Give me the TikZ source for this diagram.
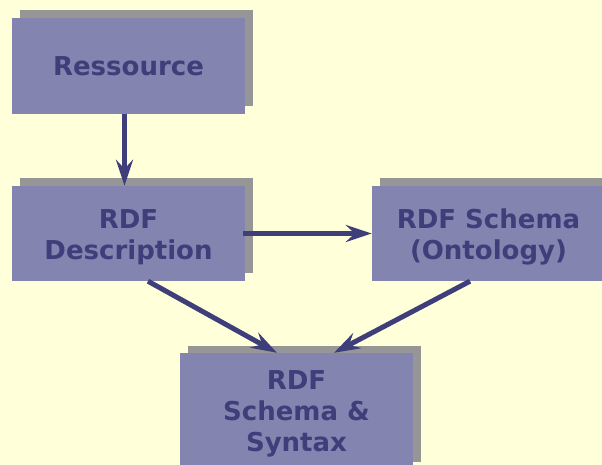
\documentclass[tikz,border=0pt]{standalone}
\usepackage{fontspec}
\setmainfont{DejaVu Sans}
\usetikzlibrary{arrows.meta}
\definecolor{bg}{RGB}{255,255,217}
\definecolor{boxfill}{RGB}{132,132,176}
\definecolor{shadowc}{RGB}{150,150,150}
\definecolor{ink}{RGB}{62,62,122}
\tikzset{
  box/.style={fill=boxfill, draw=none, minimum width=233pt, inner sep=0pt},
  lbl/.style={align=center, inner sep=0pt, text=ink, font=\fontsize{26}{31}\selectfont\bfseries},
  conn/.style={draw=ink, line width=5pt, -{Stealth[length=26pt,width=17pt,inset=9pt]}}
}
\begin{document}
\begin{tikzpicture}[x=1pt,y=-1pt]
\useasboundingbox (0,0) rectangle (602,465);
\clip (0,0) rectangle (602,465);
\fill[bg] (0,0) rectangle (602,465);
% shadows
\fill[shadowc] (20,10) rectangle (253,106);
\fill[shadowc] (20,178) rectangle (253,273);
\fill[shadowc] (380,178) rectangle (613,273);
\fill[shadowc] (188,346) rectangle (421,462);
% boxes
\node[box, minimum height=96pt] (res) at (128.5,66) {};
\node[box, minimum height=95pt] (desc) at (128.5,233.5) {};
\node[box, minimum height=95pt] (schema) at (488.5,233.5) {};
\node[box, minimum height=116pt] (syn) at (296.5,411) {};
% labels
\node[lbl] (resL) at (res.center) {Ressource};
\node[lbl] (descL) at ([yshift=-3.5pt]desc.center) {RDF\\Description};
\node[lbl] (schemaL) at ([yshift=-3.5pt]schema.center) {RDF Schema\\(Ontology)};
\node[lbl] (synL) at ([yshift=-2.5pt]syn.center) {RDF\\Schema \&\\Syntax};
% connectors
\draw[conn] ([xshift=-4pt]res.south) -- ([xshift=-4pt]desc.north);
\draw[conn] ([xshift=-2pt]desc.east) -- (schema.west);
\draw[conn] ([xshift=19.5pt]desc.south) -- ([xshift=-19.5pt]syn.north);
\draw[conn] ([xshift=-18.5pt]schema.south) -- ([xshift=37.5pt]syn.north);
\end{tikzpicture}
\end{document}
